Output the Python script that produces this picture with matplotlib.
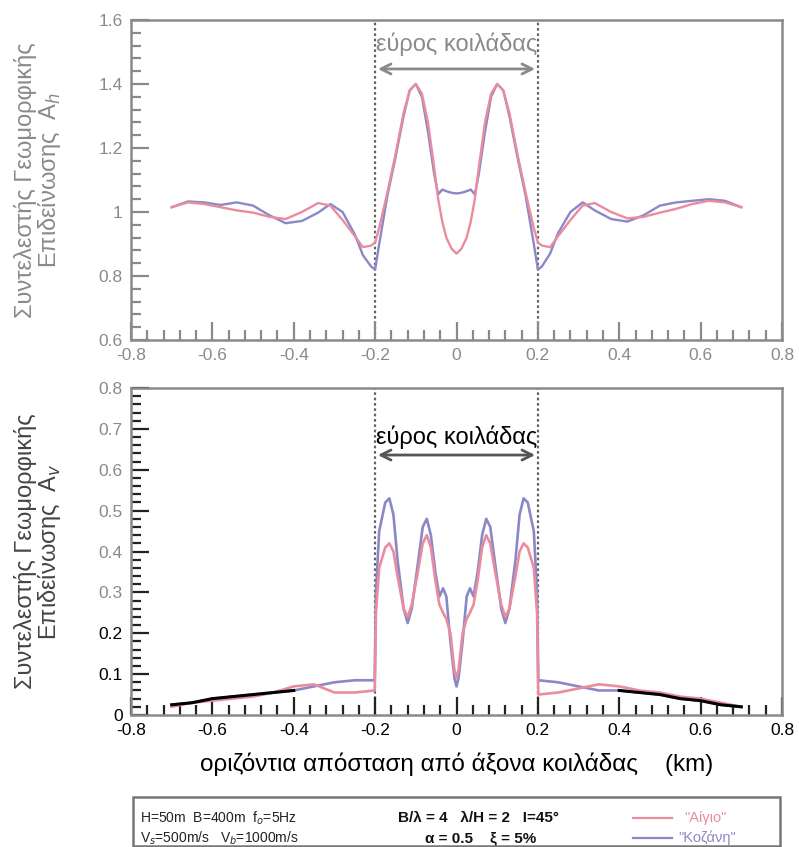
import matplotlib
matplotlib.use("Agg")
import matplotlib.pyplot as plt
from matplotlib.ticker import MultipleLocator, FixedLocator, FixedFormatter
from matplotlib.patches import Rectangle
from matplotlib.lines import Line2D

plt.rcParams['font.family'] = ['Liberation Sans', 'DejaVu Sans']

# ---- horizontal amplification A_h ----
top_x = [-0.70, -0.66, -0.62, -0.58, -0.54, -0.50, -0.46, -0.42, -0.38, -0.34,
         -0.31, -0.28, -0.25, -0.23, -0.21, -0.20, -0.19, -0.17, -0.15, -0.13,
         -0.115, -0.10, -0.085, -0.07, -0.055, -0.045, -0.035, -0.025, -0.012, 0.0,
         0.012, 0.025, 0.035, 0.045, 0.055, 0.07, 0.085, 0.10, 0.115, 0.13,
         0.15, 0.17, 0.19, 0.20, 0.21, 0.23, 0.25, 0.28, 0.31, 0.34,
         0.38, 0.42, 0.46, 0.50, 0.54, 0.58, 0.62, 0.66, 0.70]
aigio_h = [1.015, 1.030, 1.025, 1.015, 1.005, 0.998, 0.985, 0.978, 1.000, 1.028,
           1.020, 0.975, 0.925, 0.890, 0.895, 0.905, 0.950, 1.060, 1.180, 1.310,
           1.380, 1.400, 1.370, 1.280, 1.140, 1.040, 0.970, 0.920, 0.885, 0.870,
           0.885, 0.920, 0.970, 1.040, 1.140, 1.280, 1.370, 1.400, 1.380, 1.310,
           1.180, 1.060, 0.950, 0.905, 0.895, 0.890, 0.925, 0.975, 1.020, 1.028,
           1.000, 0.980, 0.985, 0.998, 1.010, 1.025, 1.035, 1.030, 1.015]
kozani_h = [1.015, 1.033, 1.030, 1.022, 1.030, 1.020, 0.990, 0.965, 0.972, 0.998,
            1.025, 1.000, 0.930, 0.865, 0.830, 0.820, 0.900, 1.050, 1.170, 1.300,
            1.380, 1.400, 1.360, 1.250, 1.120, 1.055, 1.070, 1.065, 1.060, 1.058,
            1.060, 1.065, 1.070, 1.055, 1.120, 1.250, 1.360, 1.400, 1.380, 1.300,
            1.170, 1.050, 0.900, 0.820, 0.830, 0.870, 0.935, 1.000, 1.030, 1.005,
            0.978, 0.970, 0.990, 1.020, 1.030, 1.035, 1.040, 1.035, 1.015]

# ---- vertical amplification A_v ----
bot_x = [-0.70, -0.65, -0.60, -0.55, -0.50, -0.45, -0.40, -0.35, -0.30, -0.25,
         -0.201, -0.198, -0.19, -0.175, -0.165, -0.155, -0.145, -0.13, -0.12, -0.11,
         -0.095, -0.083, -0.073, -0.063, -0.052, -0.042, -0.033, -0.025, -0.015, -0.005,
         0.0,
         0.005, 0.015, 0.025, 0.033, 0.042, 0.052, 0.063, 0.073, 0.083, 0.095,
         0.11, 0.12, 0.13, 0.145, 0.155, 0.165, 0.175, 0.19, 0.198, 0.201,
         0.25, 0.30, 0.35, 0.40, 0.45, 0.50, 0.55, 0.60, 0.65, 0.70]
aigio_v = [0.020, 0.030, 0.035, 0.040, 0.045, 0.055, 0.070, 0.075, 0.055, 0.055,
           0.060, 0.250, 0.360, 0.410, 0.420, 0.400, 0.340, 0.260, 0.240, 0.270,
           0.350, 0.420, 0.440, 0.410, 0.330, 0.270, 0.250, 0.235, 0.200, 0.110,
           0.090,
           0.110, 0.200, 0.235, 0.250, 0.270, 0.330, 0.410, 0.440, 0.420, 0.350,
           0.270, 0.240, 0.260, 0.340, 0.400, 0.420, 0.410, 0.360, 0.250, 0.050,
           0.055, 0.065, 0.075, 0.070, 0.060, 0.055, 0.045, 0.040, 0.030, 0.020]
kozani_v = [0.025, 0.030, 0.040, 0.045, 0.050, 0.055, 0.060, 0.070, 0.080, 0.085,
            0.085, 0.300, 0.450, 0.520, 0.530, 0.490, 0.380, 0.260, 0.225, 0.260,
            0.370, 0.460, 0.480, 0.440, 0.350, 0.290, 0.310, 0.290, 0.180, 0.090,
            0.070,
            0.090, 0.180, 0.290, 0.310, 0.290, 0.350, 0.440, 0.480, 0.460, 0.370,
            0.260, 0.225, 0.260, 0.380, 0.490, 0.530, 0.520, 0.450, 0.300, 0.085,
            0.080, 0.070, 0.060, 0.060, 0.055, 0.050, 0.040, 0.035, 0.025, 0.020]

x_ticks = [-0.8, -0.6, -0.4, -0.2, 0.0, 0.2, 0.4, 0.6, 0.8]
x_tick_labels = ['-0.8', '-0.6', '-0.4', '-0.2', '0', '0.2', '0.4', '0.6', '0.8']
top_y_ticks = [0.6, 0.8, 1.0, 1.2, 1.4, 1.6]
top_y_labels = ['0.6', '0.8', '1', '1.2', '1.4', '1.6']
bot_y_ticks = [0.0, 0.1, 0.2, 0.3, 0.4, 0.5, 0.6, 0.7, 0.8]
bot_y_labels = ['0', '0.1', '0.2', '0.3', '0.4', '0.5', '0.6', '0.7', '0.8']
valley_edges = [-0.2, 0.2]

PINK = '#ea8c9e'
BLUE = '#8a88c6'
GREY = '#8a8a8a'
W, H = 799, 847

fig = plt.figure(figsize=(W / 100, H / 100), dpi=100)
ax1 = fig.add_axes([131 / W, 1 - 340 / H, 651 / W, 320 / H])
ax2 = fig.add_axes([131 / W, 1 - 715 / H, 651 / W, 327 / H])


def style_axes(ax, yt, ylab, ymin, ymax, yminor, tick_col, lab_col):
    ax.set_xlim(-0.8, 0.8)
    ax.set_ylim(ymin, ymax)
    ax.xaxis.set_major_locator(FixedLocator(x_ticks))
    ax.xaxis.set_major_formatter(FixedFormatter(x_tick_labels))
    ax.xaxis.set_minor_locator(MultipleLocator(0.04))
    ax.yaxis.set_major_locator(FixedLocator(yt))
    ax.yaxis.set_major_formatter(FixedFormatter(ylab))
    ax.yaxis.set_minor_locator(MultipleLocator(yminor))
    ax.tick_params(which='both', direction='in', top=False, right=False,
                   color=tick_col, labelcolor=lab_col, labelsize=12.5, width=1.6)
    ax.tick_params(which='major', length=13, pad=6)
    ax.tick_params(which='minor', length=7)
    for s in ax.spines.values():
        s.set_color(GREY)
        s.set_linewidth(1.8)
    for xv in valley_edges:
        ax.axvline(xv, color='#666666', ls=(0, (1.2, 1.2)), lw=1.6, zorder=1)


# upper panel
style_axes(ax1, top_y_ticks, top_y_labels, 0.6, 1.6, 0.04, GREY, GREY)
ax1.plot(top_x, aigio_h, color=PINK, lw=1.7, zorder=3)
ax1.plot(top_x, kozani_h, color=BLUE, lw=1.7, zorder=2)
ax1.annotate('', xy=(-0.2, 1.447), xytext=(0.2, 1.447),
             arrowprops=dict(arrowstyle='<->', color=GREY, lw=2, mutation_scale=18))
ax1.text(0.0, 1.525, 'εύρος κοιλάδας', ha='center', va='center', color=GREY, fontsize=17)
ax1.set_ylabel('Συντελεστής Γεωμορφικής\nΕπιδείνωσης  A$_h$', color=GREY,
               fontsize=17, linespacing=0.95)

# lower panel
style_axes(ax2, bot_y_ticks, bot_y_labels, 0.0, 0.8, 0.02, '#222222', 'black')
for lbl, val in zip(ax2.get_yticklabels(), bot_y_ticks):
    lbl.set_color('black' if val < 0.25 else GREY)
ax2.plot(bot_x, aigio_v, color=PINK, lw=1.9, zorder=3)
ax2.plot(bot_x, kozani_v, color=BLUE, lw=1.9, zorder=2)
# outer stretches of both curves rendered dark
for xs_sel in ([v for v in bot_x if v <= -0.40], [v for v in bot_x if v >= 0.37]):
    idx = [bot_x.index(v) for v in xs_sel]
    ax2.plot([bot_x[i] for i in idx], [kozani_v[i] for i in idx], color='black', lw=2.2, zorder=4)
ax2.annotate('', xy=(-0.2, 0.636), xytext=(0.2, 0.636),
             arrowprops=dict(arrowstyle='<->', color='#555555', lw=2, mutation_scale=18))
ax2.text(0.0, 0.68, 'εύρος κοιλάδας', ha='center', va='center', color='black', fontsize=17)
ax2.set_ylabel('Συντελεστής Γεωμορφικής\nΕπιδείνωσης  A$_v$', color='#444444',
               fontsize=17, linespacing=0.95)
ax2.set_xlabel('οριζόντια απόσταση από άξονα κοιλάδας    (km)', color='black',
               fontsize=17.5, labelpad=10)

ax1.yaxis.set_label_coords(-0.104, 0.5)
ax2.yaxis.set_label_coords(-0.104, 0.5)

# parameter box
fig.patches.append(Rectangle((133 / W, 1 - 846 / H), 647 / W, 49 / H,
                             transform=fig.transFigure, fill=False,
                             edgecolor='#777777', lw=1.8))
narrow = ['Liberation Sans Narrow', 'Liberation Sans', 'DejaVu Sans']
fig.text(140 / W, 1 - 818 / H, 'H=50m  B=400m  f$_o$=5Hz', family=narrow,
         fontsize=10, va='center', color='#222222')
fig.text(140 / W, 1 - 838 / H, 'V$_s$=500m/s   V$_b$=1000m/s', family=narrow,
         fontsize=10, va='center', color='#222222')
fig.text(478 / W, 1 - 818 / H, 'B/λ = 4   λ/H = 2   I=45°', family=narrow,
         fontsize=11, va='center', ha='center', weight='bold', color='#111111')
fig.text(481 / W, 1 - 838 / H, 'α = 0.5    ξ = 5%', family=narrow,
         fontsize=11, va='center', ha='center', weight='bold', color='#111111')
fig.lines.append(Line2D([633 / W, 672 / W], [1 - 818 / H] * 2, transform=fig.transFigure,
                        color=PINK, lw=1.6))
fig.lines.append(Line2D([633 / W, 672 / W], [1 - 838 / H] * 2, transform=fig.transFigure,
                        color=BLUE, lw=1.6))
fig.text(684 / W, 1 - 818 / H, '"Αίγιο"', family=narrow, fontsize=10.5,
         va='center', color=PINK)
fig.text(678 / W, 1 - 838 / H, '"Κοζάνη"', family=narrow, fontsize=10.5,
         va='center', color=BLUE)

fig.savefig('out.png', dpi=100, facecolor='white')
